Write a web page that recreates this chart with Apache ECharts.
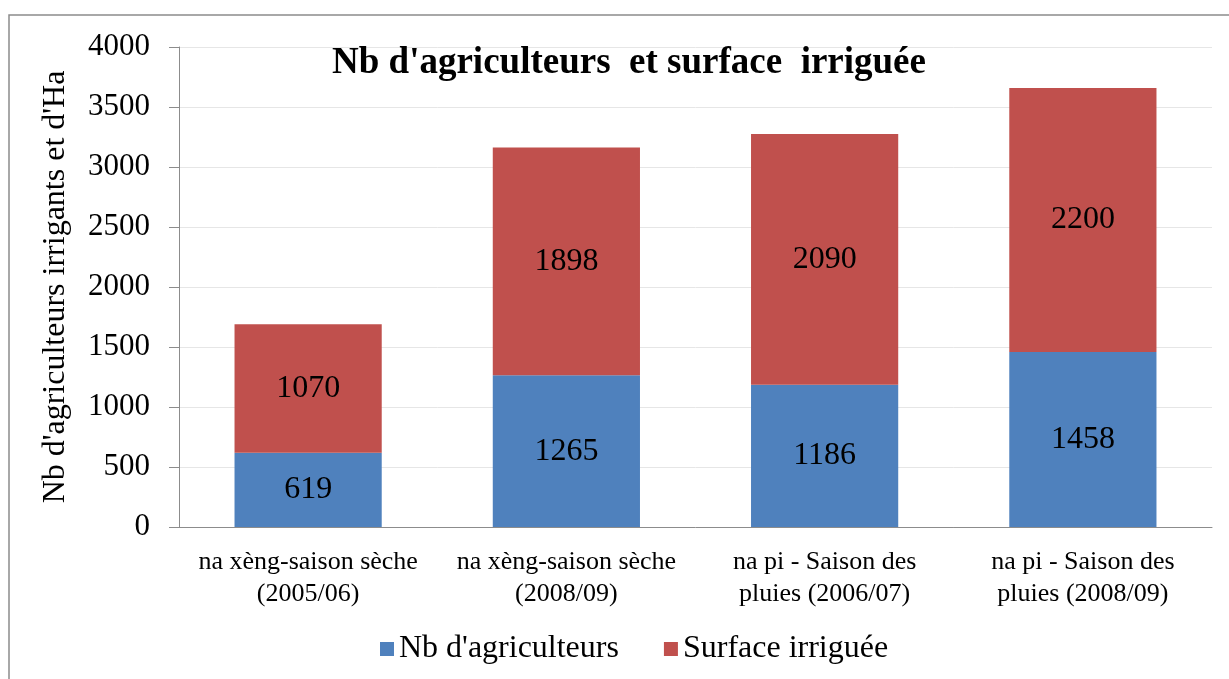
<!DOCTYPE html>
<html>
<head>
<meta charset="utf-8">
<script src="https://cdn.jsdelivr.net/npm/echarts@6/dist/echarts.min.js"></script>
<style>
    html, body {margin: 0; padding: 0; background: #fff;}
    #chart {width: 1229px; height: 679px;}
</style>
</head>
<body>
<div id="chart"></div>
<script>
    var categories = [
        'na xèng-saison sèche\n(2005/06)',
        'na xèng-saison sèche\n(2008/09)',
        'na pi - Saison des\npluies (2006/07)',
        'na pi - Saison des\npluies (2008/09)'
    ];
    var agriculteurs = [619, 1265, 1186, 1458];
    var surface = [1070, 1898, 2090, 2200];

    var serif = '"Liberation Serif", "DejaVu Serif", serif';

    //--------------------------------------------------------【chart】
    echarts.init(document.getElementById('chart')).setOption({
        animation: false,
        graphic: [
            {
                type: 'rect',
                shape: {x: 9, y: 15, width: 1260, height: 700},
                style: {fill: 'none', stroke: '#8c8c8c', lineWidth: 1.5},
                silent: true
            }
        ],
        title: {
            text: "Nb d'agriculteurs  et surface  irriguée",
            left: 624,
            top: 40,
            textAlign: 'center',
            textStyle: {fontFamily: serif, fontSize: 37, fontWeight: 'bold', color: '#000'}
        },
        grid: {left: 179, right: 17, top: 47, bottom: 152},
        legend: {
            bottom: 9,
            left: 375,
            itemWidth: 14,
            itemHeight: 14,
            itemGap: 45,
            icon: 'rect',
            textStyle: {fontFamily: serif, fontSize: 32, color: '#000'},
            data: ["Nb d'agriculteurs", 'Surface irriguée']
        },
        xAxis: {
            type: 'category',
            data: categories,
            axisLine: {lineStyle: {color: '#8c8c8c'}},
            axisTick: {show: false},
            axisLabel: {
                interval: 0,
                hideOverlap: false,
                fontFamily: serif, fontSize: 26, color: '#000',
                lineHeight: 32, margin: 19
            }
        },
        yAxis: {
            type: 'value',
            min: 0,
            max: 4000,
            interval: 500,
            name: "Nb d'agriculteurs irrigants et d'Ha",
            nameLocation: 'middle',
            nameGap: 107,
            nameTextStyle: {fontFamily: serif, fontSize: 32, color: '#000'},
            axisLine: {show: true, lineStyle: {color: '#8c8c8c'}},
            axisTick: {show: true, length: 10, lineStyle: {color: '#8c8c8c'}},
            axisLabel: {
                fontFamily: serif, fontSize: 31, color: '#000', margin: 29,
                formatter: function (v) {
                    return String(v);
                }
            },
            splitLine: {lineStyle: {color: '#e6e6e6'}}
        },
        series: [
            {
                name: "Nb d'agriculteurs",
                type: 'bar',
                stack: 'total',
                barWidth: '57%',
                itemStyle: {color: '#4f81bd'},
                label: {show: true, position: 'inside', fontFamily: serif, fontSize: 32, color: '#000'},
                data: agriculteurs
            },
            {
                name: 'Surface irriguée',
                type: 'bar',
                stack: 'total',
                barWidth: '57%',
                itemStyle: {color: '#c0504d'},
                label: {show: true, position: 'inside', fontFamily: serif, fontSize: 32, color: '#000'},
                data: surface
            }
        ]
    });
</script>
</body>
</html>
